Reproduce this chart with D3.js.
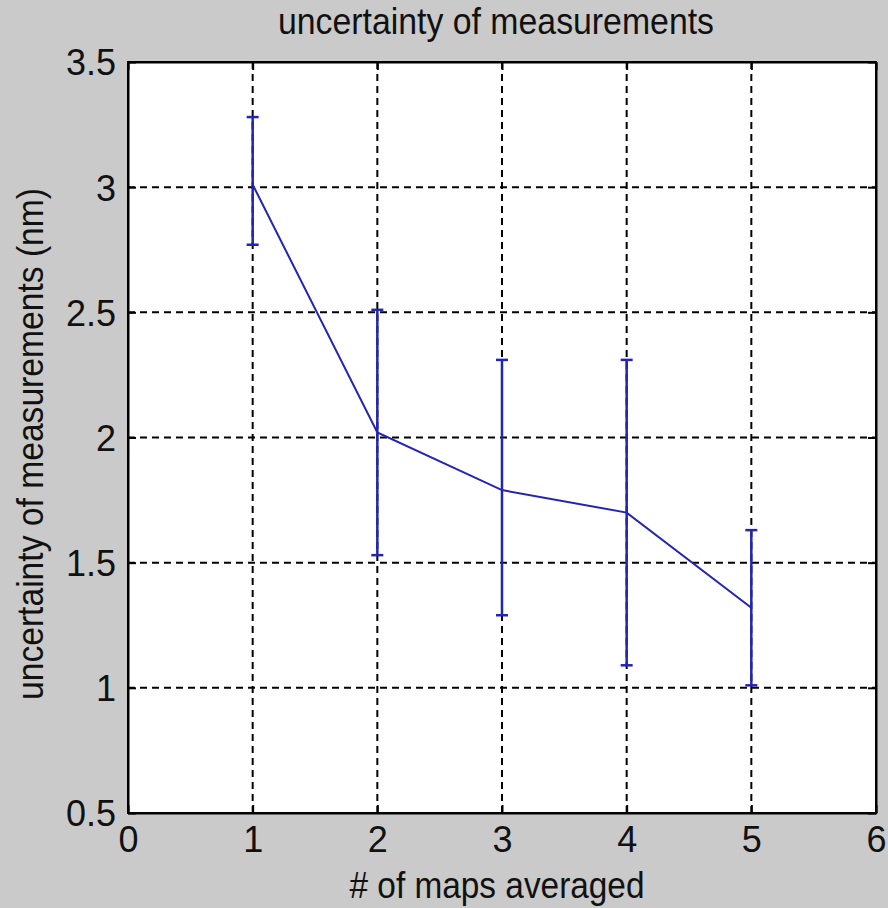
<!DOCTYPE html>
<html>
<head>
<meta charset="utf-8">
<script src="https://cdn.jsdelivr.net/npm/d3@7"></script>
<style>
  body { margin: 0; background: #cacaca; }
  svg text { font-family: "Liberation Sans", Arial, sans-serif; fill: #111; }
</style>
</head>
<body>
<div id="chart"></div>
<script>
// data
const mapsAveraged = [1, 2, 3, 4, 5];
const meanUncertainty = [3.01, 2.02, 1.79, 1.70, 1.32];
const upperBound = [3.28, 2.51, 2.31, 2.31, 1.63];
const lowerBound = [2.77, 1.53, 1.29, 1.09, 1.01];
const xTicks = [0, 1, 2, 3, 4, 5, 6];
const yTicks = [0.5, 1, 1.5, 2, 2.5, 3, 3.5];
const yTickLabels = ["0.5", "1", "1.5", "2", "2.5", "3", "3.5"];

const width = 888, height = 908;
const margin = {top: 62, right: 12, bottom: 95, left: 128};
const w = width - margin.left - margin.right;
const h = height - margin.top - margin.bottom;

const svg = d3.select('#chart').append('svg')
    .attr('width', width)
    .attr('height', height);

svg.append('rect').attr('width', width).attr('height', height).attr('fill', '#cacaca');

const chart = svg.append('g')
    .attr('transform', `translate(${margin.left},${margin.top})`);

const xScale = d3.scaleLinear().domain([0, 6]).range([0, w]);
const yScale = d3.scaleLinear().domain([0.5, 3.5]).range([h, 0]);

chart.append('rect').attr('width', w).attr('height', h).attr('fill', '#fff');

// dashed grid
chart.append('g').selectAll('line.gx')
    .data(xTicks).join('line')
    .attr('x1', d => xScale(d)).attr('x2', d => xScale(d))
    .attr('y1', 0).attr('y2', h)
    .attr('stroke', '#000').attr('stroke-width', 2).attr('stroke-dasharray', '7,5');
chart.append('g').selectAll('line.gy')
    .data(yTicks).join('line')
    .attr('x1', 0).attr('x2', w)
    .attr('y1', d => yScale(d)).attr('y2', d => yScale(d))
    .attr('stroke', '#000').attr('stroke-width', 2).attr('stroke-dasharray', '7,5');

// axes, ticks pointing inward
const xAxis = chart.append('g')
    .attr('transform', `translate(0,${h})`)
    .call(d3.axisBottom(xScale).tickValues(xTicks).tickFormat(d3.format('d')).tickSizeInner(-8).tickSizeOuter(0).tickPadding(13));
const yAxis = chart.append('g')
    .call(d3.axisLeft(yScale).tickValues(yTicks).tickFormat((d, i) => yTickLabels[i]).tickSizeInner(-8).tickSizeOuter(0).tickPadding(12));
chart.append('g')
    .call(d3.axisTop(xScale).tickValues(xTicks).tickFormat('').tickSizeInner(-8).tickSizeOuter(0));
chart.append('g')
    .attr('transform', `translate(${w},0)`)
    .call(d3.axisRight(yScale).tickValues(yTicks).tickFormat('').tickSizeInner(-8).tickSizeOuter(0));

chart.selectAll('.domain').attr('stroke', '#000').attr('stroke-width', 2);
chart.selectAll('.tick line').attr('stroke', '#000').attr('stroke-width', 2);
chart.selectAll('.tick text').attr('font-size', 36).attr('fill', '#111')
    .attr('font-family', '"Liberation Sans", Arial, sans-serif');
yAxis.selectAll('.tick text').attr('dy', '0.36em');

// box
chart.append('rect').attr('width', w).attr('height', h)
    .attr('fill', 'none').attr('stroke', '#000').attr('stroke-width', 2);

const blue = '#2424b4';
const pts = mapsAveraged.map((m, i) => ({x: m, y: meanUncertainty[i], hi: upperBound[i], lo: lowerBound[i]}));

// error bars
const eb = chart.append('g').selectAll('g').data(pts).join('g');
eb.append('line')
    .attr('x1', d => xScale(d.x)).attr('x2', d => xScale(d.x))
    .attr('y1', d => yScale(d.hi)).attr('y2', d => yScale(d.lo))
    .attr('stroke', blue).attr('stroke-width', 2.5);
eb.append('line')
    .attr('x1', d => xScale(d.x) - 6).attr('x2', d => xScale(d.x) + 6)
    .attr('y1', d => yScale(d.hi)).attr('y2', d => yScale(d.hi))
    .attr('stroke', blue).attr('stroke-width', 2.5);
eb.append('line')
    .attr('x1', d => xScale(d.x) - 6).attr('x2', d => xScale(d.x) + 6)
    .attr('y1', d => yScale(d.lo)).attr('y2', d => yScale(d.lo))
    .attr('stroke', blue).attr('stroke-width', 2.5);

const lineGen = d3.line().x(d => xScale(d.x)).y(d => yScale(d.y));
chart.append('path')
    .datum(pts)
    .attr('fill', 'none')
    .attr('stroke', blue)
    .attr('stroke-width', 2)
    .attr('d', lineGen);

// title and labels (text squeezed to the narrow look of the original)
svg.append('text')
    .attr('x', 496).attr('y', 34)
    .attr('text-anchor', 'middle').attr('font-size', 37)
    .attr('textLength', 436).attr('lengthAdjust', 'spacingAndGlyphs')
    .text('uncertainty of measurements');
svg.append('text')
    .attr('x', 497).attr('y', 898)
    .attr('text-anchor', 'middle').attr('font-size', 37)
    .attr('textLength', 295).attr('lengthAdjust', 'spacingAndGlyphs')
    .text('# of maps averaged');
svg.append('text')
    .attr('transform', `translate(43,444) rotate(-90)`)
    .attr('text-anchor', 'middle').attr('font-size', 37)
    .attr('textLength', 512).attr('lengthAdjust', 'spacingAndGlyphs')
    .text('uncertainty of measurements (nm)');
</script>
</body>
</html>
